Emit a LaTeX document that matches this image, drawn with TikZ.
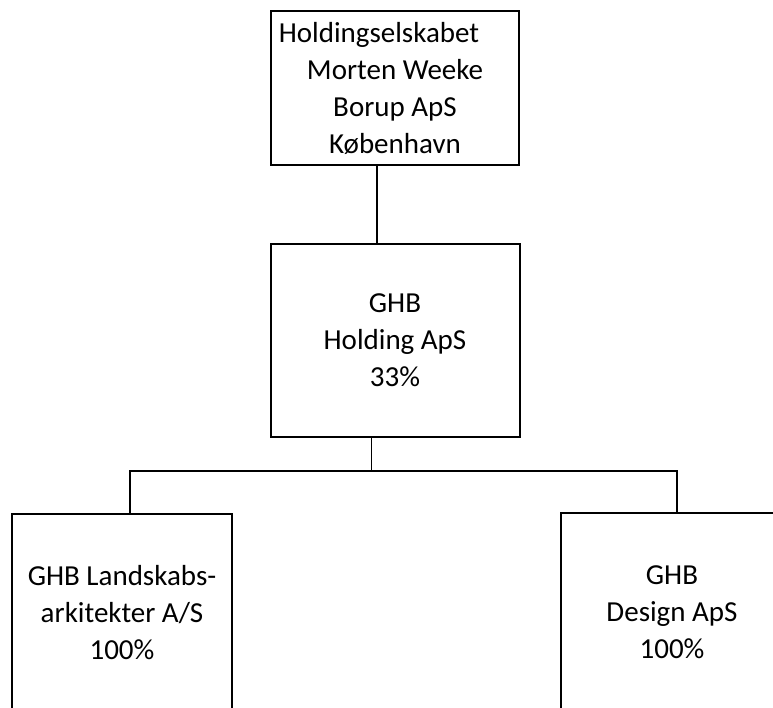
\documentclass[tikz,border=0pt]{standalone}
\usepackage{fontspec}
\setmainfont{Carlito}
\usetikzlibrary{positioning}

\tikzset{
	company/.style={draw, line width=2pt, rectangle, align=center, inner sep=0pt,
		font=\fontsize{29}{37}\selectfont},
	link/.style={line width=1.4pt},
}

\begin{document}
\begin{tikzpicture}[x=1pt, y=-1pt]
	\useasboundingbox (0,0) rectangle (773,707);

	\node [company, minimum width=248pt, minimum height=154pt] (top) at (395,88)
		{Holdingselskabet\hspace*{32pt}\\ Morten Weeke\\ Borup ApS\\ København};
	\node [company, minimum width=249pt, minimum height=193pt, below=77pt of top] (mid)
		{GHB\\ Holding ApS\\ 33\%};

	\node [company, minimum width=220pt, minimum height=198pt] (left) at (122,613)
		{GHB Landskabs-\\ arkitekter A/S\\ 100\%};
	\node [company, minimum width=222pt, minimum height=199pt] (right) at (672,612.5)
		{GHB\\ Design ApS\\ 100\%};

	\coordinate (bus) at ([xshift=-23.5pt, yshift=-33pt]mid.south);

	\draw [link] ([xshift=-18pt]top.south) -- ([xshift=-18pt]top.south |- mid.north);
	\draw [link] ([xshift=-23.5pt]mid.south) -- (bus);
	\draw [link] ([xshift=8pt]left.north) |- (bus) -| ([xshift=5pt]right.north);

\end{tikzpicture}
\end{document}
